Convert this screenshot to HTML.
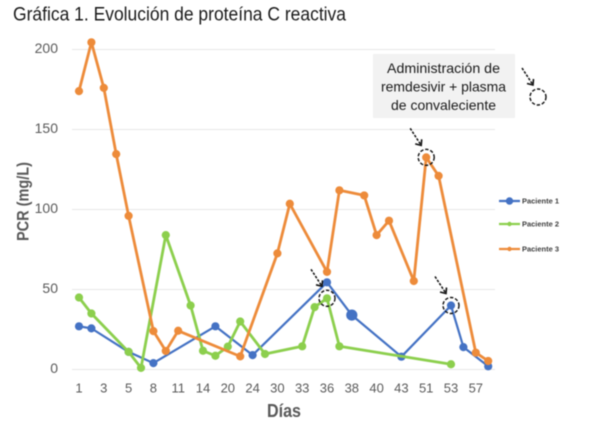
<!DOCTYPE html>
<html lang="es">
<head>
<meta charset="utf-8">
<title>Gráfica 1. Evolución de proteína C reactiva</title>
<style>
html,body{margin:0;padding:0;background:#fff;}
#chart{display:block;width:600px;height:433px;font-family:"Liberation Sans",sans-serif;filter:blur(0.45px);}
</style>
</head>
<body>
<svg id="chart" xmlns="http://www.w3.org/2000/svg" width="600" height="433" viewBox="0 0 600 433">
<rect x="0" y="0" width="600" height="433" fill="#ffffff"/>
<text x="13" y="20.5" font-size="19.5" fill="#1a1a1a" textLength="333" lengthAdjust="spacingAndGlyphs">Gráfica 1. Evolución de proteína C reactiva</text>
<g id="grid"></g>
<g id="yticks"></g>
<g id="xticks"></g>
<text transform="translate(28.5,201.5) rotate(-90)" text-anchor="middle" font-size="16.5" font-weight="bold" fill="#595959" textLength="79" lengthAdjust="spacingAndGlyphs">PCR (mg/L)</text>
<text x="284" y="417" text-anchor="middle" font-size="18" font-weight="bold" fill="#595959" textLength="34" lengthAdjust="spacingAndGlyphs">Días</text>
<g id="series"></g>
<g id="legend"></g>
<g>
<rect x="373" y="54" width="142" height="64" fill="#f2f2f2"/>
<text x="443.5" y="73" text-anchor="middle" font-size="14" fill="#1a1a1a" textLength="113" lengthAdjust="spacingAndGlyphs">Administración de</text>
<text x="443.5" y="91.5" text-anchor="middle" font-size="14" fill="#1a1a1a" textLength="125" lengthAdjust="spacingAndGlyphs">remdesivir + plasma</text>
<text x="443.5" y="110" text-anchor="middle" font-size="14" fill="#1a1a1a" textLength="105" lengthAdjust="spacingAndGlyphs">de convaleciente</text>
</g>
<g id="callouts"></g>
</svg>
<script>
const tickLabels = ['1','3','5','8','11','14','20','24','30','33','36','38','40','43','51','53','57'];
const yTicks = [0, 50, 100, 150, 200];
const categoryCount = 34;
const paciente1 = [27,25.7,null,null,11,null,4,null,null,null,null,27,null,null,9,null,null,null,null,null,54.5,null,34,null,null,null,8,null,null,null,40,14,null,2];
const paciente2 = [45,35,null,null,11,1,null,84,null,40,11.7,8.6,14.3,30,null,9.7,null,null,14.5,39,44.5,14.5,null,null,null,null,null,null,null,null,3.3,null,null,null];
const paciente3 = [174,204.5,176,134.6,96,null,24,11.6,24.2,null,null,null,null,8.2,null,null,72.6,103.6,null,null,61,112,null,108.8,84,93,null,55.3,132.6,121,null,null,10.5,5.3];
const seriesNames = ['Paciente 1','Paciente 2','Paciente 3'];
const seriesValues = [paciente1, paciente2, paciente3];
const seriesColors = ['#4472c4','#8ccf4d','#ed8b3a'];
const drawOrder = [0, 1, 2];
const enlargedPoint = {series: 0, index: 22};
const calloutPoints = [
  {series: 2, index: 28},
  {series: 1, index: 20},
  {series: 0, index: 30}
];

const SVG = 'http://www.w3.org/2000/svg';
const xAt = i => 79 + i * 12.4;
const yAt = v => 369.5 - v * 1.6;
function make(tag, attrs, parent) {
  const el = document.createElementNS(SVG, tag);
  for (const k in attrs) el.setAttribute(k, attrs[k]);
  parent.appendChild(el);
  return el;
}

const grid = document.getElementById('grid');
const yG = document.getElementById('yticks');
yTicks.forEach(t => {
  const line = make('line', {x1: 72, x2: 495, y1: yAt(t), y2: yAt(t), stroke: '#e7e7e7', 'stroke-width': 1.1}, grid);
  
  
  const label = make('text', {x: 58, y: yAt(t) + 3.5, 'text-anchor': 'end', 'font-size': 14, fill: '#595959'}, yG);
  
  
  label.textContent = t;
});

const xG = document.getElementById('xticks');
tickLabels.forEach((t, n) => {
  const label = make('text', {x: xAt(n * 2), y: 392.5, 'text-anchor': 'middle', 'font-size': 13, fill: '#595959'}, xG);
  
  
  label.textContent = t;
});

const sG = document.getElementById('series');
drawOrder.forEach(s => {
  const values = seriesValues[s];
  const pts = [];
  for (let i = 0; i < categoryCount; i++) {
    if (values[i] !== null && values[i] !== undefined) pts.push([i, values[i]]);
  }
  const group = make('g', {}, sG);
  
  
  const line = make('polyline', {
    points: pts.map(p => xAt(p[0]) + ',' + yAt(p[1])).join(' '),
    fill: 'none', stroke: seriesColors[s],
    'stroke-width': s === 0 ? 2.2 : 2.8, 'stroke-linejoin': 'round'
  }, group);
  
  
  pts.forEach(p => {
    const big = enlargedPoint.series === s && enlargedPoint.index === p[0];
    const c = make('circle', {cx: xAt(p[0]), cy: yAt(p[1]), r: big ? 5.6 : 4.1, fill: seriesColors[s]}, group);
    
    
  });
});

const legendRows = [201, 224, 249];
const legendMarkerR = [3.7, 2.2, 2.2];
const lG = document.getElementById('legend');
seriesNames.forEach((name, s) => {
  const y = legendRows[s];
  const line = make('line', {x1: 499, x2: 520, y1: y, y2: y, stroke: seriesColors[s], 'stroke-width': 2.2}, lG);
  
  
  const m = make('circle', {cx: 509.5, cy: y, r: legendMarkerR[s], fill: seriesColors[s]}, lG);
  
  
  const label = make('text', {x: 522, y: y + 2.5, 'font-size': 7.5, fill: '#404040', 'font-weight': 'bold', textLength: 37, lengthAdjust: 'spacingAndGlyphs'}, lG);
  
  
  label.textContent = name;
});

const cG = document.getElementById('callouts');
function drawCallout(cx, cy) {
  const circle = make('circle', {cx: cx, cy: cy, r: 8, fill: 'none', stroke: '#111', 'stroke-width': 1.4, 'stroke-dasharray': '3.4 1.8'}, cG);
  
  
  const x1 = cx - 16, y1 = cy - 29, x2 = cx - 5, y2 = cy - 12;
  const line = make('line', {x1: x1, y1: y1, x2: x2, y2: y2, stroke: '#111', 'stroke-width': 1.5, 'stroke-dasharray': '2.6 1.4'}, cG);
  
  
  const head = make('path', {d: 'M' + (x2 - 6) + ' ' + (y2 - 1.5) + ' L' + x2 + ' ' + y2 + ' L' + (x2 + 0.5) + ' ' + (y2 - 6), fill: 'none', stroke: '#111', 'stroke-width': 1.6}, cG);
  
  
}
calloutPoints.forEach(c => drawCallout(xAt(c.index), yAt(seriesValues[c.series][c.index])));
drawCallout(538, 97);
</script>
</body>
</html>
